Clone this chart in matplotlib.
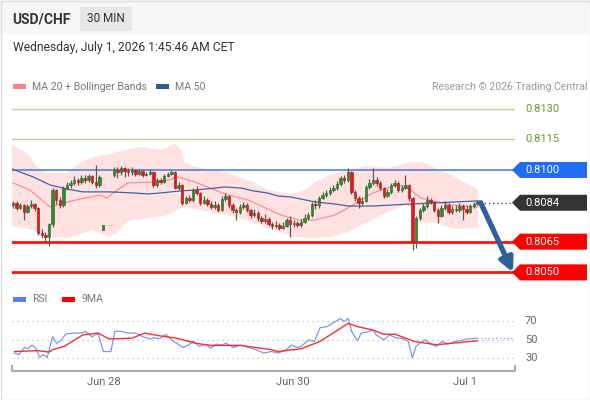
import numpy as np
import matplotlib
matplotlib.use("Agg")
import matplotlib.pyplot as plt
from matplotlib.patches import Rectangle, Polygon, FancyArrowPatch
from matplotlib.lines import Line2D
from matplotlib.transforms import Affine2D, blended_transform_factory

plt.rcParams['font.family'] = ['Roboto', 'DejaVu Sans']

# ---------------- data ----------------
nan = np.nan
opens = [0.80829, 0.80839, 0.80815, 0.80829, 0.80795, 0.80824, 0.80834, 0.80815, 0.80693, 0.80683,
         0.80673, 0.80736, 0.80902, 0.80854, 0.80829, 0.80912, 0.80927, 0.80937, 0.80951, 0.80941,
         0.80961, 0.80951, 0.80971, 0.80941, 0.80927, 0.80707, nan, nan, 0.80976, 0.81000,
         0.80990, 0.81010, 0.80995, 0.80990, 0.81000, 0.80980, 0.80995, 0.80976, 0.80980, 0.80990,
         0.80927, 0.80951, 0.80941, 0.80971, 0.80980, 0.80990, 0.80912, 0.80927, 0.80839, 0.80863,
         0.80854, 0.80902, 0.80888, 0.80839, 0.80854, 0.80834, 0.80819, 0.80829, 0.80805, 0.80858,
         0.80873, 0.80829, 0.80805, 0.80795, 0.80819, 0.80829, 0.80805, 0.80780, 0.80790, 0.80766,
         0.80751, 0.80761, 0.80736, 0.80727, 0.80732, 0.80717, 0.80727, 0.80756, 0.80736, 0.80741,
         0.80732, 0.80746, 0.80766, 0.80780, 0.80834, 0.80829, 0.80863, 0.80878, 0.80888, 0.80902,
         0.80912, 0.80932, 0.80961, 0.80951, 0.80990, 0.80893, 0.80863, 0.80839, 0.80849, 0.80917,
         0.80937, 0.80951, 0.80937, 0.80912, 0.80873, 0.80893, 0.80927, 0.80937, 0.80902, 0.80912,
         0.80927, 0.80863, 0.80649, 0.80766, 0.80805, 0.80824, 0.80854, 0.80844, 0.80805, 0.80776,
         0.80815, 0.80829, 0.80795, 0.80810, 0.80805, 0.80824, 0.80810, 0.80795, 0.80824, 0.80834]
closes = [0.80839, 0.80815, 0.80829, 0.80795, 0.80824, 0.80834, 0.80815, 0.80693, 0.80683, 0.80673,
          0.80736, 0.80902, 0.80854, 0.80829, 0.80912, 0.80927, 0.80937, 0.80951, 0.80941, 0.80961,
          0.80951, 0.80971, 0.80941, 0.80927, 0.80966, 0.80732, nan, nan, 0.81000, 0.80990,
          0.81010, 0.80995, 0.80990, 0.81000, 0.80980, 0.80995, 0.80976, 0.80980, 0.80990, 0.80927,
          0.80951, 0.80941, 0.80971, 0.80980, 0.80990, 0.80912, 0.80927, 0.80839, 0.80863, 0.80854,
          0.80902, 0.80888, 0.80839, 0.80854, 0.80834, 0.80819, 0.80829, 0.80805, 0.80858, 0.80873,
          0.80829, 0.80805, 0.80795, 0.80819, 0.80829, 0.80805, 0.80780, 0.80790, 0.80766, 0.80751,
          0.80761, 0.80736, 0.80727, 0.80732, 0.80717, 0.80727, 0.80756, 0.80736, 0.80741, 0.80732,
          0.80746, 0.80766, 0.80780, 0.80834, 0.80829, 0.80863, 0.80878, 0.80888, 0.80902, 0.80912,
          0.80932, 0.80961, 0.80951, 0.80990, 0.80893, 0.80863, 0.80839, 0.80849, 0.80917, 0.80937,
          0.80951, 0.80937, 0.80912, 0.80873, 0.80893, 0.80927, 0.80937, 0.80902, 0.80912, 0.80927,
          0.80863, 0.80649, 0.80766, 0.80805, 0.80824, 0.80854, 0.80844, 0.80805, 0.80776, 0.80815,
          0.80829, 0.80795, 0.80810, 0.80805, 0.80824, 0.80810, 0.80795, 0.80824, 0.80834, 0.80844]
highs = [0.80849, 0.80849, 0.80839, 0.80834, 0.80834, 0.80854, 0.80839, 0.80820, 0.80712, 0.80697,
         0.80741, 0.80912, 0.80907, 0.80868, 0.80922, 0.80941, 0.80951, 0.80971, 0.80961, 0.80976,
         0.80976, 0.80981, 0.80976, 0.81024, 0.80976, 0.80732, nan, nan, 0.81015, 0.81015,
         0.81020, 0.81015, 0.81010, 0.81015, 0.81005, 0.81005, 0.81000, 0.80990, 0.81005, 0.80995,
         0.80961, 0.80961, 0.80981, 0.80990, 0.81000, 0.80995, 0.80941, 0.80932, 0.80873, 0.80878,
         0.80912, 0.80922, 0.80893, 0.80873, 0.80863, 0.80849, 0.80849, 0.80839, 0.80873, 0.80888,
         0.80878, 0.80839, 0.80815, 0.80834, 0.80844, 0.80839, 0.80810, 0.80810, 0.80800, 0.80776,
         0.80785, 0.80771, 0.80746, 0.80751, 0.80741, 0.80746, 0.80766, 0.80776, 0.80756, 0.80751,
         0.80761, 0.80785, 0.80795, 0.80844, 0.80854, 0.80873, 0.80893, 0.80902, 0.80917, 0.80927,
         0.80946, 0.80971, 0.80976, 0.81010, 0.80995, 0.80902, 0.80873, 0.80868, 0.80927, 0.80956,
         0.81010, 0.80966, 0.80946, 0.80917, 0.80907, 0.80937, 0.80951, 0.80946, 0.80927, 0.80976,
         0.80932, 0.80868, 0.80776, 0.80815, 0.80839, 0.80873, 0.80863, 0.80849, 0.80815, 0.80829,
         0.80849, 0.80839, 0.80824, 0.80829, 0.80839, 0.80834, 0.80829, 0.80834, 0.80844, 0.80854]
lows = [0.80815, 0.80805, 0.80810, 0.80756, 0.80790, 0.80815, 0.80800, 0.80683, 0.80668, 0.80649,
        0.80629, 0.80722, 0.80834, 0.80815, 0.80820, 0.80902, 0.80912, 0.80927, 0.80927, 0.80932,
        0.80937, 0.80941, 0.80932, 0.80912, 0.80917, 0.80707, nan, nan, 0.80966, 0.80961,
        0.80976, 0.80966, 0.80971, 0.80976, 0.80971, 0.80976, 0.80966, 0.80971, 0.80976, 0.80917,
        0.80917, 0.80932, 0.80937, 0.80966, 0.80976, 0.80907, 0.80902, 0.80829, 0.80834, 0.80844,
        0.80844, 0.80878, 0.80829, 0.80834, 0.80824, 0.80810, 0.80810, 0.80795, 0.80800, 0.80849,
        0.80815, 0.80790, 0.80756, 0.80785, 0.80810, 0.80795, 0.80766, 0.80771, 0.80751, 0.80741,
        0.80741, 0.80727, 0.80712, 0.80717, 0.80707, 0.80712, 0.80722, 0.80673, 0.80722, 0.80722,
        0.80722, 0.80741, 0.80756, 0.80771, 0.80810, 0.80815, 0.80858, 0.80868, 0.80878, 0.80893,
        0.80902, 0.80922, 0.80937, 0.80941, 0.80883, 0.80849, 0.80815, 0.80829, 0.80844, 0.80907,
        0.80927, 0.80922, 0.80902, 0.80863, 0.80868, 0.80883, 0.80917, 0.80893, 0.80893, 0.80907,
        0.80849, 0.80610, 0.80619, 0.80756, 0.80795, 0.80815, 0.80834, 0.80795, 0.80741, 0.80771,
        0.80805, 0.80785, 0.80785, 0.80795, 0.80795, 0.80756, 0.80785, 0.80790, 0.80815, 0.80829]

# MA 50 (candle index, price)
ma50_x = [-0.3, 5.6, 10.3, 15.0, 19.4, 26.9, 33.3, 37.5, 41.1, 46.7, 50.6, 58.9, 63.3, 66.7,
          70.6, 73.6, 77.2, 83.9, 89.4, 93.1, 100.0, 110.6, 129.2]
ma50_y = [0.81005, 0.80966, 0.80927, 0.80907, 0.80893, 0.80893, 0.80888, 0.80883, 0.80888,
          0.80898, 0.80902, 0.80917, 0.80912, 0.80898, 0.80888, 0.80873, 0.80868, 0.80844,
          0.80834, 0.80824, 0.80824, 0.80834, 0.80849]
# MA 20
ma20_x = [0, 4.7, 10.3, 15.0, 21.4, 24.2, 26.1, 27.8, 31.9, 39.4, 42.2, 45.8, 50.6, 56.1, 59.7,
          65.3, 74.4, 79.2, 83.9, 89.4, 93.1, 96.7, 100.0, 102.2, 106.9, 109.7, 113.3, 121.7, 129.2]
ma20_y = [0.80937, 0.80902, 0.80819, 0.80844, 0.80868, 0.80878, 0.80863, 0.80888, 0.80937,
          0.80941, 0.80946, 0.80966, 0.80941, 0.80902, 0.80878, 0.80854, 0.80780, 0.80756,
          0.80756, 0.80780, 0.80815, 0.80854, 0.80888, 0.80902, 0.80927, 0.80912, 0.80863,
          0.80829, 0.80819]
# Bollinger bands
bbu_x = [-0.3, 3.9, 6.7, 9.4, 15.0, 18.6, 21.4, 28.9, 35.3, 41.1, 45.0, 46.7, 47.8, 50.6, 56.1,
         59.7, 66.7, 70.8, 77.2, 81.1, 83.9, 88.1, 93.1, 98.6, 104.2, 110.6, 113.3, 121.7, 129.2]
bbu_y = [0.81122, 0.81083, 0.81015, 0.80985, 0.80985, 0.81034, 0.81059, 0.81088, 0.81112,
         0.81098, 0.81127, 0.81098, 0.81034, 0.81015, 0.81000, 0.80985, 0.80941, 0.80902,
         0.80883, 0.80902, 0.80941, 0.80976, 0.81000, 0.81020, 0.81010, 0.81039, 0.81039,
         0.80976, 0.80902]
bbl_x = [-0.3, 5.6, 8.3, 15.0, 22.2, 26.9, 28.9, 31.9, 38.1, 43.1, 46.7, 50.6, 56.1, 61.7, 66.7,
         70.0, 74.4, 78.3, 83.9, 88.3, 93.1, 97.8, 104.2, 108.9, 110.6, 112.5, 117.2, 122.8, 129.2]
bbl_y = [0.80727, 0.80707, 0.80673, 0.80668, 0.80707, 0.80673, 0.80693, 0.80751, 0.80766,
         0.80780, 0.80815, 0.80810, 0.80790, 0.80771, 0.80746, 0.80722, 0.80693, 0.80673,
         0.80668, 0.80673, 0.80697, 0.80741, 0.80795, 0.80829, 0.80819, 0.80746, 0.80741,
         0.80712, 0.80717]

# RSI and its 9MA
rsi_x = [0.4, 1.6, 3.2, 4.2, 5.3, 6.3, 7.4, 8.4, 9.5, 11.0, 12.1, 13.1, 14.7, 16.8, 18.9, 20.2,
         22.0, 23.6, 25.1, 27.2, 28.3, 29.8, 31.9, 34.0, 36.1, 38.2, 39.2, 40.8, 42.4, 44.5, 45.5,
         47.1, 48.7, 50.2, 51.8, 53.4, 54.9, 56.5, 58.1, 59.1, 61.2, 63.3, 65.4, 67.5, 69.6, 71.7,
         73.7, 75.8, 77.4, 79.0, 80.0, 82.1, 83.7, 85.3, 87.3, 89.4, 91.0, 92.0, 93.1, 94.1, 95.7,
         96.7, 98.8, 99.9, 100.9, 103.0, 104.6, 106.2, 108.2, 109.8, 110.9, 111.9, 113.0, 114.5,
         116.1, 117.6, 119.2, 120.8, 122.9, 125.0, 126.5, 128.9]
rsi_y = [35.4, 33.6, 41.4, 40.0, 44.0, 40.7, 30.7, 33.6, 30.7, 53.0, 46.0, 48.0, 56.0, 57.0, 57.0,
         58.6, 53.0, 57.0, 37.0, 37.0, 59.0, 59.0, 57.0, 57.0, 53.0, 50.7, 52.0, 51.0, 55.7, 48.0,
         46.0, 41.4, 44.0, 48.0, 42.5, 45.0, 40.7, 45.0, 44.0, 46.0, 41.4, 44.0, 41.4, 39.0, 35.4,
         37.0, 35.4, 39.0, 44.0, 41.4, 42.5, 49.6, 48.0, 62.9, 64.0, 69.3, 72.9, 69.3, 72.9, 58.6,
         48.6, 56.8, 58.6, 60.4, 55.0, 49.6, 55.0, 52.0, 51.0, 48.0, 30.0, 42.5, 46.0, 49.6, 45.0,
         42.5, 48.0, 45.0, 48.0, 49.6, 50.7, 51.4]
ma9_x = [0.4, 6.8, 10.0, 11.0, 14.2, 19.4, 23.6, 26.7, 33.0, 36.6, 40.3, 45.5, 50.7, 54.9, 63.3,
         71.7, 73.7, 80.0, 85.3, 93.1, 95.7, 99.9, 103.0, 106.2, 111.4, 117.6, 121.8, 128.9]
ma9_y = [37.0, 38.0, 36.4, 39.0, 42.5, 55.0, 57.0, 50.7, 51.4, 57.0, 54.3, 51.4, 46.0, 43.6, 43.6,
         39.0, 37.0, 40.0, 48.0, 67.5, 64.0, 60.4, 55.7, 55.7, 48.0, 44.3, 46.0, 48.6]

green_levels = [0.8130, 0.8115]
blue_level = 0.8100
last_price = 0.8084
red_levels = [0.8065, 0.8050]
target_price = 0.8050

tick_pos = [25.3, 77.8, 125.6]
tick_labels = ["Jun 28", "Jun 30", "Jul 1"]
rsi_levels = [70, 50, 30]

# ---------------- figure ----------------
W, H = 590, 400
fig = plt.figure(figsize=(W / 100, H / 100), dpi=100)
fig.patch.set_facecolor("white")
PX = Affine2D().scale(1 / W, -1 / H).translate(0, 1) + fig.transFigure


def rect(x0, y0, x1, y1):
    return [x0 / W, 1 - y1 / H, (x1 - x0) / W, (y1 - y0) / H]


# header
fig.patches.append(Rectangle((0, 0), W, 34, transform=PX, facecolor="#f6f6f6", edgecolor="none", zorder=0))
fig.patches.append(Rectangle((80, 7), 52, 24, transform=PX, facecolor="#e7e7e7", edgecolor="none", zorder=1))
fig.patches.append(Rectangle((0.5, 0.5), W - 1, H - 1, transform=PX, facecolor="none", edgecolor="#dddddd", lw=1, zorder=5))
fig.text(12, 19, "USD/CHF", transform=PX, fontsize=10, fontweight="bold", color="#333333", va="center", ha="left")
fig.text(106, 19, "30 MIN", transform=PX, fontsize=8.5, color="#333333", va="center", ha="center")
fig.text(13, 47, "Wednesday, July 1, 2026 1:45:46 AM CET", transform=PX, fontsize=8.7, color="#333333", va="center")

# legend
fig.patches.append(Rectangle((13, 84), 13, 5, transform=PX, facecolor="#ff8080", edgecolor="none"))
fig.text(32, 86.5, "MA 20 + Bollinger Bands", transform=PX, fontsize=7.6, color="#777777", va="center")
fig.patches.append(Rectangle((156, 84), 13, 5, transform=PX, facecolor="#2e5c9e", edgecolor="none"))
fig.text(175, 86.5, "MA 50", transform=PX, fontsize=7.6, color="#777777", va="center")
fig.text(587, 86.5, "Research \u00a9 2026 Trading Central", transform=PX, fontsize=7.6, color="#999999",
         va="center", ha="right")

# ---------------- price panel ----------------
ax = fig.add_axes(rect(12, 95, 515, 290))
ax.set_xlim(-0.28, 139.44)
ax.set_ylim(0.80414, 0.81366)
ax.axis("off")

# bollinger band fill
band_x = list(bbu_x) + list(bbl_x)[::-1]
band_y = list(bbu_y) + list(bbl_y)[::-1]
ax.fill(band_x, band_y, color="#ffe1e1", lw=0, zorder=1)
ax.plot(ma20_x, ma20_y, color="#ff8c8c", lw=0.9, zorder=3)
ax.plot(ma50_x, ma50_y, color="#3c64a8", lw=0.9, zorder=3)

for g in green_levels:
    ax.axhline(g, color="#b5db8f", lw=1, zorder=2)
ax.axhline(blue_level, color="#4a78d8", lw=1.1, zorder=2)
for r in red_levels:
    ax.axhline(r, color="#ff1010", lw=2, zorder=2)

o = np.array(opens)
c = np.array(closes)
hi = np.array(highs)
lo = np.array(lows)
idx = np.arange(len(c))
ok = ~np.isnan(c)
ax.vlines(idx[ok], lo[ok], hi[ok], color="#5a5a5a", lw=0.9, zorder=4)
up = ok & (c >= o)
dn = ok & (c < o)
bh = np.maximum(np.abs(c - o), 0.00004)
ax.bar(idx[up], bh[up], bottom=np.minimum(o, c)[up], width=0.7, color="#2f8a2f",
       edgecolor="#226622", lw=0.4, zorder=5)
ax.bar(idx[dn], bh[dn], bottom=np.minimum(o, c)[dn], width=0.7, color="#e01b1b",
       edgecolor="#a81010", lw=0.4, zorder=5)

# faint dotted gap marker after the isolated weekend candle
gap_i = np.where(~ok)[0]
ax.plot([gap_i[0] - 0.4, gap_i[-1] + 0.4], [c[gap_i[0] - 1], c[gap_i[0] - 1]], ls=(0, (1, 1.5)),
        color="#aaaaaa", lw=0.8, zorder=4)

# dotted line to last price label
last_i = idx[ok][-1]
ax.plot([last_i + 0.8, 139.44], [last_price, last_price], ls=(0, (1, 2)), color="#555555", lw=1, zorder=3,
        clip_on=False)

# arrow
arr = FancyArrowPatch((last_i + 0.9, last_price), (138.9, target_price), arrowstyle="-|>",
                      mutation_scale=20, lw=3.8, color="#2f5f9e", shrinkA=0, shrinkB=0, zorder=6,
                      clip_on=False)
ax.add_patch(arr)

fig.canvas.draw()


def ypix(p):
    return H - ax.transData.transform((0, p))[1]


for g in green_levels:
    fig.text(525, ypix(g), f"{g:.4f}", transform=PX, fontsize=8, color="#5e9e2e", va="center", ha="left")


def tag(p, color):
    y = ypix(p)
    poly = Polygon([(512, y), (520, y - 8), (587, y - 8), (587, y + 8), (520, y + 8)], closed=True,
                   transform=PX, facecolor=color, edgecolor="none", zorder=6)
    fig.patches.append(poly)
    fig.text(525, y, f"{p:.4f}", transform=PX, fontsize=8, color="white", va="center", ha="left", zorder=7)


tag(blue_level, "#1f6cf5")
tag(last_price, "#333333")
for r in red_levels:
    tag(r, "#ff0000")

# ---------------- RSI panel ----------------
ax2 = fig.add_axes(rect(12, 310, 515, 370))
ax2.set_xlim(-0.28, 139.44)
ax2.set_ylim(17, 82)
ax2.axis("off")
for lv in rsi_levels:
    ax2.axhline(lv, color="#bbbbbb", lw=0.9, ls=(0, (1, 3)), zorder=1)
ax2.plot(rsi_x, rsi_y, color="#7b97ea", lw=0.9, zorder=3)
ax2.plot(ma9_x, ma9_y, color="#ff2a2a", lw=1.0, zorder=4)
ax2.plot([rsi_x[-1], 139.44], [rsi_y[-1], rsi_y[-1]], color="#7b97ea", lw=0.9, ls=(0, (1, 2)), zorder=3)

fig.canvas.draw()
for lv in rsi_levels:
    yp = H - ax2.transData.transform((0, lv))[1]
    fig.text(525, yp, str(lv), transform=PX, fontsize=8, color="#666666", va="center", ha="left")

fig.patches.append(Rectangle((13, 297), 13, 5, transform=PX, facecolor="#5b7fe6", edgecolor="none"))
fig.text(32, 299.5, "RSI", transform=PX, fontsize=7.6, color="#777777", va="center")
fig.patches.append(Rectangle((62, 297), 13, 5, transform=PX, facecolor="#ff0000", edgecolor="none"))
fig.text(81, 299.5, "9MA", transform=PX, fontsize=7.6, color="#777777", va="center")

# bottom axis bracket
fig.lines.append(Line2D([12, 12, 515, 515], [366, 370.5, 370.5, 366], transform=PX, color="#aaaaaa", lw=1.5))
bt = blended_transform_factory(ax2.transData, PX)
for tp, tl in zip(tick_pos, tick_labels):
    ax2.text(tp, 382, tl, transform=bt, fontsize=8, color="#666666", ha="center", va="center")

fig.savefig("out.png", dpi=100)
